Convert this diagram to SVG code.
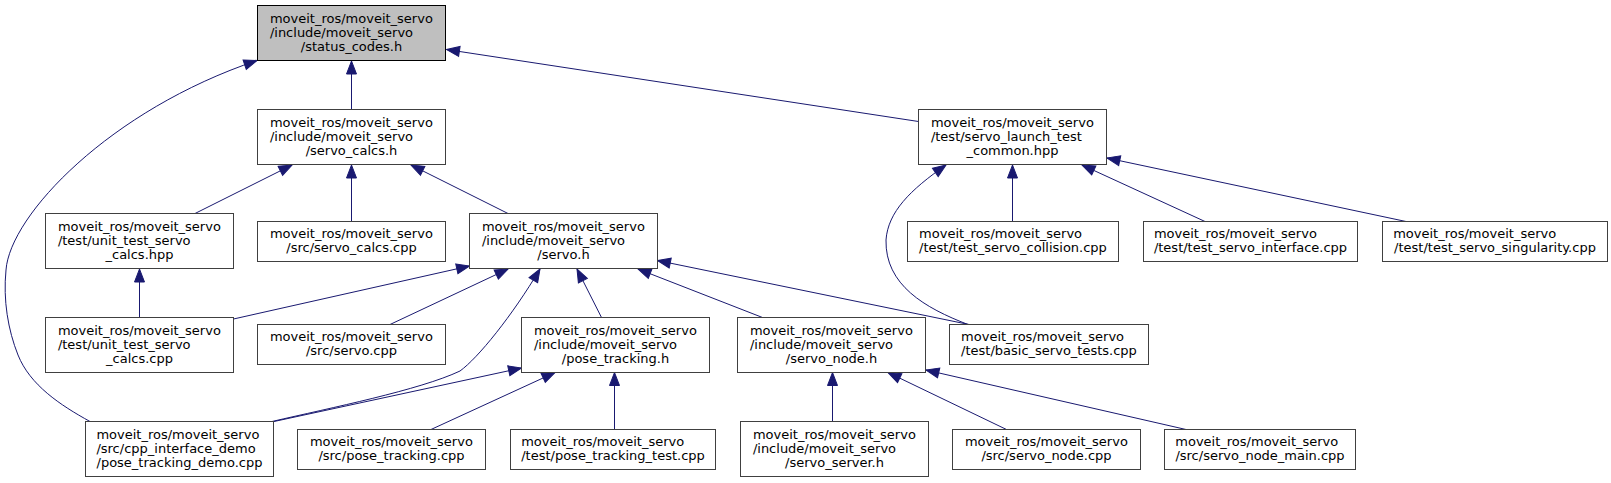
<svg xmlns="http://www.w3.org/2000/svg" width="1611" height="483" viewBox="0 0 1611 483">
<style>
.node rect{fill:#ffffff;stroke:#404040;stroke-width:1}
.root rect{fill:#bfbfbf;stroke:#000000}
text{font-family:"DejaVu Sans","Liberation Sans",sans-serif;font-size:13px;fill:#000000}
.c{text-anchor:middle}
.edges path{fill:none;stroke:#191970;stroke-width:1;marker-end:url(#ah)}
</style>
<defs>
<marker id="ah" markerUnits="userSpaceOnUse" markerWidth="14" markerHeight="11" refX="13" refY="5" orient="auto" overflow="visible">
<path d="M0,0 L13,5 L0,10 Z" fill="#191970" stroke="#191970" stroke-width="1"/>
</marker>
</defs>
<rect width="1611" height="483" fill="#ffffff"/>
<g class="edges" id="edges">
<path d="M351.5,109.5 L351.5,61"/>
<path d="M918.5,121.5 L446.5,49.5"/>
<path d="M90,421.5 C60,405 30,385 18,355 C8,330 3,300 6,270 C10,215 110,110 257,60.5"/>
<path d="M195,213.5 L292,165"/>
<path d="M351.5,221.5 L351.5,165"/>
<path d="M508,213.5 L411,165"/>
<path d="M1012.5,221.5 L1012.5,165"/>
<path d="M1205,221.5 L1082,165"/>
<path d="M1406,221.5 L1107,158"/>
<path d="M968,324.5 C925,308 885,285 886,240 C888,212 910,190 946,165"/>
<path d="M139.5,317.5 L139.5,269"/>
<path d="M233.5,319 L469.5,266"/>
<path d="M390,324.5 L508,269"/>
<path d="M272,421.5 C330,408 420,390 460,371 C478,358 512,316 540,269"/>
<path d="M601.5,317.5 L577,269"/>
<path d="M762.5,317.5 L638,269"/>
<path d="M969,324.5 L657.5,260.5"/>
<path d="M274,421.5 L521.5,368"/>
<path d="M431,429.5 L555,372.5"/>
<path d="M614.5,429.5 L614.5,372.5"/>
<path d="M832.5,421.5 L832.5,372.5"/>
<path d="M1006.5,429.5 L888,372.5"/>
<path d="M1186,429.5 L926,370"/>
</g>
<g class="node root" id="n_status_codes">
<rect x="257.5" y="5.5" width="188" height="55"/>
<text x="269.9" y="23.2">moveit_ros/moveit_servo</text>
<text x="269.9" y="37">/include/moveit_servo</text>
<text class="c" x="351.5" y="50.8">/status_codes.h</text>
</g>
<g class="node" id="n_servo_calcs_h">
<rect x="257.5" y="109.5" width="188" height="55"/>
<text x="269.9" y="127.2">moveit_ros/moveit_servo</text>
<text x="269.9" y="141">/include/moveit_servo</text>
<text class="c" x="351.5" y="154.8">/servo_calcs.h</text>
</g>
<g class="node" id="n_servo_launch_test_common">
<rect x="918.5" y="109.5" width="188" height="55"/>
<text x="930.9" y="127.2">moveit_ros/moveit_servo</text>
<text x="930.9" y="141">/test/servo_launch_test</text>
<text class="c" x="1012.5" y="154.8">_common.hpp</text>
</g>
<g class="node" id="n_unit_test_servo_calcs_hpp">
<rect x="45.5" y="213.5" width="188" height="55"/>
<text x="57.9" y="231.2">moveit_ros/moveit_servo</text>
<text x="57.9" y="245">/test/unit_test_servo</text>
<text class="c" x="139.5" y="258.8">_calcs.hpp</text>
</g>
<g class="node" id="n_servo_calcs_cpp">
<rect x="257.5" y="221.5" width="188" height="40"/>
<text x="269.9" y="238">moveit_ros/moveit_servo</text>
<text class="c" x="351.5" y="252">/src/servo_calcs.cpp</text>
</g>
<g class="node" id="n_servo_h">
<rect x="469.5" y="213.5" width="188" height="55"/>
<text x="481.9" y="231.2">moveit_ros/moveit_servo</text>
<text x="481.9" y="245">/include/moveit_servo</text>
<text class="c" x="563.5" y="258.8">/servo.h</text>
</g>
<g class="node" id="n_test_servo_collision">
<rect x="907.5" y="221.5" width="211" height="40"/>
<text x="919.1" y="238">moveit_ros/moveit_servo</text>
<text class="c" x="1013" y="252">/test/test_servo_collision.cpp</text>
</g>
<g class="node" id="n_test_servo_interface">
<rect x="1143.5" y="221.5" width="214" height="40"/>
<text x="1153.9" y="238">moveit_ros/moveit_servo</text>
<text class="c" x="1250.5" y="252">/test/test_servo_interface.cpp</text>
</g>
<g class="node" id="n_test_servo_singularity">
<rect x="1382.5" y="221.5" width="225" height="40"/>
<text x="1393.2" y="238">moveit_ros/moveit_servo</text>
<text class="c" x="1495" y="252">/test/test_servo_singularity.cpp</text>
</g>
<g class="node" id="n_unit_test_servo_calcs_cpp">
<rect x="45.5" y="317.5" width="188" height="55"/>
<text x="57.9" y="335.2">moveit_ros/moveit_servo</text>
<text x="57.9" y="349">/test/unit_test_servo</text>
<text class="c" x="139.5" y="362.8">_calcs.cpp</text>
</g>
<g class="node" id="n_servo_cpp">
<rect x="257.5" y="324.5" width="188" height="40"/>
<text x="269.9" y="341">moveit_ros/moveit_servo</text>
<text class="c" x="351.5" y="355">/src/servo.cpp</text>
</g>
<g class="node" id="n_pose_tracking_h">
<rect x="521.5" y="317.5" width="188" height="55"/>
<text x="533.9" y="335.2">moveit_ros/moveit_servo</text>
<text x="533.9" y="349">/include/moveit_servo</text>
<text class="c" x="615.5" y="362.8">/pose_tracking.h</text>
</g>
<g class="node" id="n_servo_node_h">
<rect x="737.5" y="317.5" width="188" height="55"/>
<text x="749.9" y="335.2">moveit_ros/moveit_servo</text>
<text x="749.9" y="349">/include/moveit_servo</text>
<text class="c" x="831.5" y="362.8">/servo_node.h</text>
</g>
<g class="node" id="n_basic_servo_tests">
<rect x="949.5" y="324.5" width="199" height="40"/>
<text x="961.1" y="341">moveit_ros/moveit_servo</text>
<text class="c" x="1049" y="355">/test/basic_servo_tests.cpp</text>
</g>
<g class="node" id="n_pose_tracking_demo">
<rect x="85.5" y="421.5" width="188" height="55"/>
<text x="96.4" y="439.2">moveit_ros/moveit_servo</text>
<text x="96.4" y="453">/src/cpp_interface_demo</text>
<text class="c" x="179.5" y="466.8">/pose_tracking_demo.cpp</text>
</g>
<g class="node" id="n_pose_tracking_cpp">
<rect x="297.5" y="429.5" width="188" height="40"/>
<text x="309.9" y="446">moveit_ros/moveit_servo</text>
<text class="c" x="391.5" y="460">/src/pose_tracking.cpp</text>
</g>
<g class="node" id="n_pose_tracking_test">
<rect x="510.5" y="429.5" width="205" height="40"/>
<text x="521.2" y="446">moveit_ros/moveit_servo</text>
<text class="c" x="613" y="460">/test/pose_tracking_test.cpp</text>
</g>
<g class="node" id="n_servo_server_h">
<rect x="740.5" y="421.5" width="188" height="55"/>
<text x="752.9" y="439.2">moveit_ros/moveit_servo</text>
<text x="752.9" y="453">/include/moveit_servo</text>
<text class="c" x="834.5" y="466.8">/servo_server.h</text>
</g>
<g class="node" id="n_servo_node_cpp">
<rect x="952.5" y="429.5" width="188" height="40"/>
<text x="964.9" y="446">moveit_ros/moveit_servo</text>
<text class="c" x="1046.5" y="460">/src/servo_node.cpp</text>
</g>
<g class="node" id="n_servo_node_main">
<rect x="1164.5" y="429.5" width="191" height="40"/>
<text x="1175.3" y="446">moveit_ros/moveit_servo</text>
<text class="c" x="1260" y="460">/src/servo_node_main.cpp</text>
</g>
</svg>
